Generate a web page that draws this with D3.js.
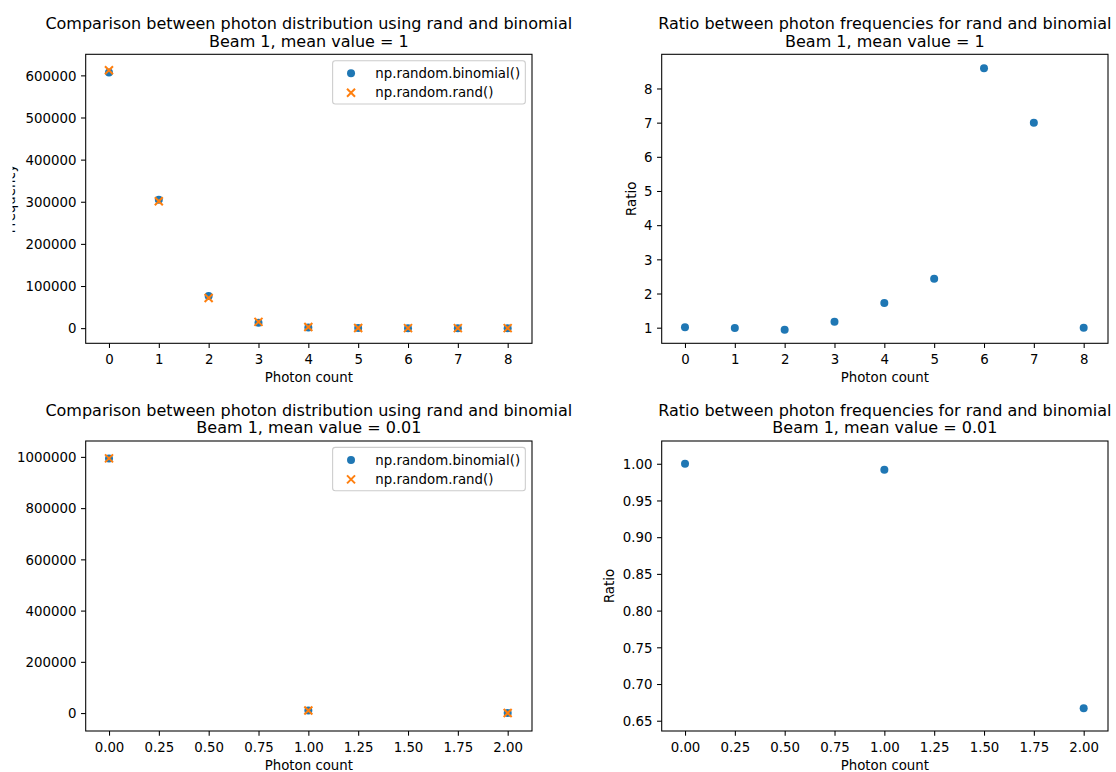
<!DOCTYPE html>
<html>
<head>
<meta charset="utf-8">
<script src="https://cdn.jsdelivr.net/npm/d3@7"></script>
<style>
  body { margin: 0; background: #fff; }
  svg { font-family: "DejaVu Sans", sans-serif; }
</style>
</head>
<body>
<div id="chart"></div>
<script>
// beam 1, mean value = 1
const counts1 = [0, 1, 2, 3, 4, 5, 6, 7, 8];
const binomial1 = [607000, 305000, 76500, 12600, 1500, 140, 5, 1, 1];
const rand1 = [612000, 301000, 71500, 14800, 2570, 340, 43, 7, 1];
const ratio1 = [1.01, 0.99, 0.94, 1.175, 1.72, 2.43, 8.59, 7.0, 1.0];

// beam 1, mean value = 0.01
const counts2 = [0, 1, 2];
const binomial2 = [994000, 9950, 24];
const rand2 = [994100, 9870, 16];
const ratio2 = [1.0, 0.992, 0.667];

// tick labels
const xTicks1 = [0, 1, 2, 3, 4, 5, 6, 7, 8];
const xTicks2 = [0, 0.25, 0.5, 0.75, 1, 1.25, 1.5, 1.75, 2];
const yTicksFreq1 = [0, 100000, 200000, 300000, 400000, 500000, 600000];
const yTicksRatio1 = [1, 2, 3, 4, 5, 6, 7, 8];
const yTicksFreq2 = [0, 200000, 400000, 600000, 800000, 1000000];
const yTicksRatio2 = [0.65, 0.7, 0.75, 0.8, 0.85, 0.9, 0.95, 1.0];

const legendLabels = ["np.random.binomial()", "np.random.rand()"];
const blue = "#1f77b4", orange = "#ff7f0e";

const W = 1116, H = 772;
const fontSize = 13.33, pt = 1.333;

const svg = d3.select("#chart").append("svg")
  .attr("width", W).attr("height", H);

// the leftmost y label is partly cut off in the original figure
svg.append("defs").append("clipPath").attr("id", "figclip")
  .append("rect").attr("x", 12.5).attr("y", 0).attr("width", W).attr("height", H);

const crossPath = (r) => `M${-r},${-r}L${r},${r}M${-r},${r}L${r},${-r}`;

function drawPanel(p) {
  const x = d3.scaleLinear().domain(p.xDomain).range([p.left, p.right]);
  const y = d3.scaleLinear().domain(p.yDomain).range([p.bottom, p.top]);
  const g = svg.append("g");

  // x axis
  const xa = g.append("g")
    .attr("transform", "translate(0," + p.bottom + ")")
    .call(d3.axisBottom(x).tickValues(p.xTicks).tickFormat(p.xFormat).tickSize(3.5 * pt));
  xa.select(".domain").remove();
  xa.selectAll("line").attr("stroke", "#000").attr("stroke-width", 0.8 * pt);
  xa.selectAll("text").attr("y", 20.7).attr("dy", null)
    .attr("font-size", fontSize).attr("font-family", "DejaVu Sans").attr("fill", "#000");

  // y axis
  const ya = g.append("g")
    .attr("transform", "translate(" + p.left + ",0)")
    .call(d3.axisLeft(y).tickValues(p.yTicks).tickFormat(p.yFormat).tickSize(3.5 * pt).tickPadding(3.5 * pt));
  ya.select(".domain").remove();
  ya.selectAll("line").attr("stroke", "#000").attr("stroke-width", 0.8 * pt);
  ya.selectAll("text").attr("dy", "0.36em")
    .attr("font-size", fontSize).attr("font-family", "DejaVu Sans").attr("fill", "#000");

  // points
  p.series.forEach((s) => {
    if (s.marker === "o") {
      g.append("g").selectAll("circle")
        .data(s.values)
        .enter()
        .append("circle")
        .attr("cx", (d, i) => x(p.counts[i]))
        .attr("cy", (d) => y(d))
        .attr("r", 3 * pt)
        .attr("fill", s.color);
    } else {
      g.append("g").selectAll("path")
        .data(s.values)
        .enter()
        .append("path")
        .attr("transform", (d, i) => `translate(${x(p.counts[i])},${y(d)})`)
        .attr("d", crossPath(3 * pt))
        .attr("fill", "none")
        .attr("stroke", s.color)
        .attr("stroke-width", 1.5 * pt);
    }
  });

  // frame
  g.append("rect")
    .attr("x", p.left).attr("y", p.top)
    .attr("width", p.right - p.left).attr("height", p.bottom - p.top)
    .attr("fill", "none").attr("stroke", "#000").attr("stroke-width", 0.8 * pt);

  // title
  const cx = (p.left + p.right) / 2;
  g.append("text").attr("x", cx).attr("y", p.top - 25)
    .attr("text-anchor", "middle").attr("font-size", 16).text(p.title[0]);
  g.append("text").attr("x", cx).attr("y", p.top - 7.6)
    .attr("text-anchor", "middle").attr("font-size", 16).text(p.title[1]);

  // x label
  g.append("text").attr("x", cx).attr("y", p.bottom + 38.7)
    .attr("text-anchor", "middle").attr("font-size", fontSize).text("Photon count");

  // y label
  if (p.yLabel) {
    const holder = g.append("g");
    if (p.clipLabel) holder.attr("clip-path", "url(#figclip)");
    holder.append("text")
      .attr("transform", `translate(${p.yLabelX},${(p.top + p.bottom) / 2}) rotate(-90)`)
      .attr("text-anchor", "middle").attr("font-size", fontSize).text(p.yLabel);
  }

  // legend
  if (p.legend) {
    const lx = p.right - 6.67 - 192.7, ly = p.top + 6.4;
    const lg = g.append("g");
    lg.append("rect").attr("x", lx).attr("y", ly).attr("width", 192.7).attr("height", 43.3)
      .attr("rx", 2.7).attr("fill", "#fff").attr("fill-opacity", 0.8)
      .attr("stroke", "#cccccc").attr("stroke-width", 0.8 * pt);
    legendLabels.forEach((label, i) => {
      const ry = ly + 12.6 + i * 19.4;
      if (i === 0) {
        lg.append("circle").attr("cx", lx + 18.4).attr("cy", ry).attr("r", 3 * pt).attr("fill", blue);
      } else {
        lg.append("path").attr("transform", `translate(${lx + 18.4},${ry})`)
          .attr("d", crossPath(3 * pt)).attr("fill", "none")
          .attr("stroke", orange).attr("stroke-width", 1.5 * pt);
      }
      lg.append("text").attr("x", lx + 42.7).attr("y", ry).attr("dy", "0.36em")
        .attr("font-size", fontSize).text(label);
    });
  }
}

const fmtInt = d3.format("d");
const fmt2 = d3.format(".2f");
const leftCol = { left: 85.7, right: 532 };
const rightCol = { left: 661.7, right: 1108 };
const topRow = { top: 54.3, bottom: 343.3 };
const botRow = { top: 441, bottom: 731 };

drawPanel({
  ...leftCol, ...topRow,
  counts: counts1,
  xDomain: [-0.467, 8.488], yDomain: [-36000, 650000],
  xTicks: xTicks1, yTicks: yTicksFreq1, xFormat: fmtInt, yFormat: fmtInt,
  series: [{ values: binomial1, marker: "o", color: blue }, { values: rand1, marker: "x", color: orange }],
  title: ["Comparison between photon distribution using rand and binomial", "Beam 1, mean value = 1"],
  yLabel: "Frequency", yLabelX: 15.3, clipLabel: true,
  legend: true,
});

drawPanel({
  ...rightCol, ...topRow,
  counts: counts1,
  xDomain: [-0.467, 8.488], yDomain: [0.543, 9.0],
  xTicks: xTicks1, yTicks: yTicksRatio1, xFormat: fmtInt, yFormat: fmtInt,
  series: [{ values: ratio1, marker: "o", color: blue }],
  title: ["Ratio between photon frequencies for rand and binomial", "Beam 1, mean value = 1"],
  yLabel: "Ratio", yLabelX: 635.6,
});

drawPanel({
  ...leftCol, ...botRow,
  counts: counts2,
  xDomain: [-0.117, 2.122], yDomain: [-70000, 1062000],
  xTicks: xTicks2, yTicks: yTicksFreq2, xFormat: fmt2, yFormat: fmtInt,
  series: [{ values: binomial2, marker: "o", color: blue }, { values: rand2, marker: "x", color: orange }],
  title: ["Comparison between photon distribution using rand and binomial", "Beam 1, mean value = 0.01"],
  legend: true,
});

drawPanel({
  ...rightCol, ...botRow,
  counts: counts2,
  xDomain: [-0.117, 2.122], yDomain: [0.636, 1.031],
  xTicks: xTicks2, yTicks: yTicksRatio2, xFormat: fmt2, yFormat: fmt2,
  series: [{ values: ratio2, marker: "o", color: blue }],
  title: ["Ratio between photon frequencies for rand and binomial", "Beam 1, mean value = 0.01"],
  yLabel: "Ratio", yLabelX: 614.3,
});
</script>
</body>
</html>
